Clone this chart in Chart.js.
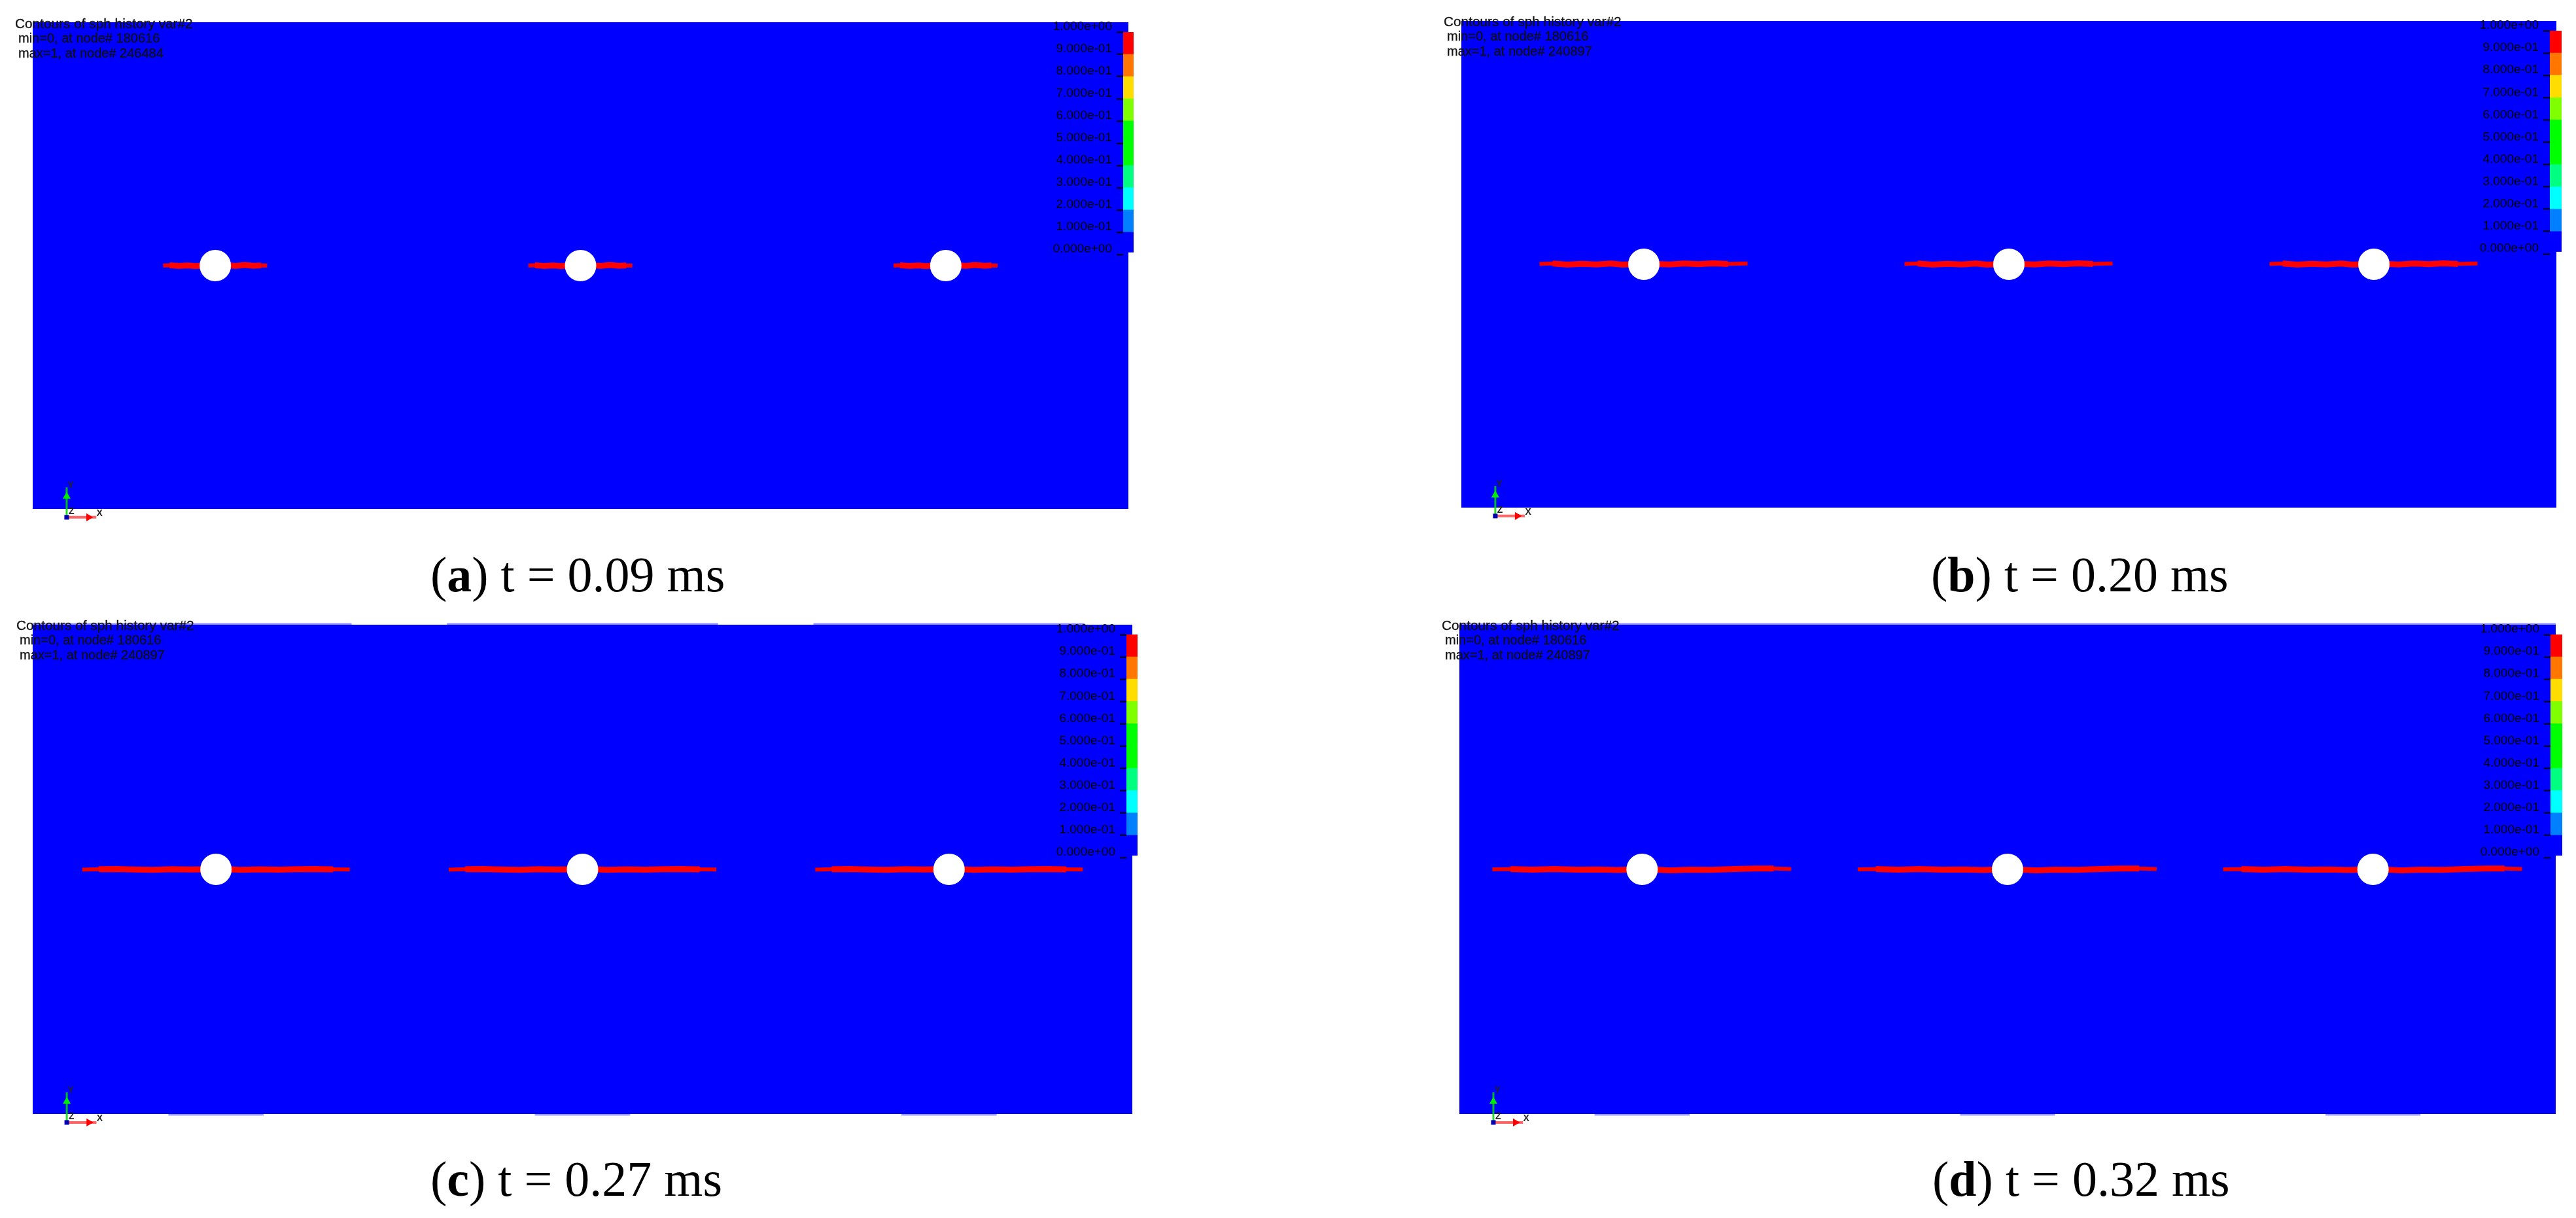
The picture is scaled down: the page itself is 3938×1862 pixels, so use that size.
<!DOCTYPE html>
<html>
<head>
<meta charset="utf-8">
<title>Contours of sph history var#2</title>
<script src="https://cdn.jsdelivr.net/npm/chart.js@4/dist/chart.umd.min.js"></script>
<style>
  html, body { margin: 0; padding: 0; background: #fff; }
  #page { position: relative; width: 3938px; height: 1862px; overflow: hidden; }
  #page canvas { position: absolute; }
  .plate-canvas { z-index: 1; filter: blur(0.6px); }
  .bar-canvas { z-index: 2; filter: blur(0.7px); }
  .header {
    position: absolute; z-index: 3; white-space: nowrap; color: #111;
    font: 20px/23px "Liberation Sans", sans-serif; filter: blur(0.7px);
    -webkit-text-stroke: 0.3px #111;
  }
  .header .first { font-size: 20.8px; margin-left: -5px; }
  .caption {
    position: absolute; z-index: 3; white-space: nowrap; color: #000;
    font: 76px/76px "Liberation Serif", serif;
  }
</style>
</head>
<body>
<div id="page"></div>
<script>
// model size of the plate, and the three holes along its mid line
const plateWidth = 300;
const plateHeight = 133.33;
const holeX = [50, 150, 250];
const holeY = [66.67, 66.67, 66.67];

const crackA = [[-14.3, 0.0], [-12.5, 0.1], [-10, -0.1], [-7.5, 0.05], [-5.5, -0.15], [-3.5, 0.0], [3.5, 0.1], [5.5, -0.1], [8, 0.15], [10.5, -0.05], [12.5, 0.05], [14.2, 0.0]];
const crackB = [[-28.6, 0.1], [-25, 0.2], [-21, -0.1], [-17, 0.15], [-13, -0.05], [-9, 0.2], [-6, -0.1], [-3.5, 0.0], [3.5, 0.1], [7, -0.05], [11, 0.2], [15, 0.05], [19, 0.25], [23, 0.1], [28.4, 0.2]];
const crackC = [[-36.5, -0.1], [-32, 0.05], [-27, 0.1], [-22, -0.05], [-17, -0.15], [-12, 0.05], [-7, -0.05], [-3.5, 0.0], [3.5, 0.0], [7, -0.15], [12, 0.0], [17, -0.1], [22, 0.05], [27, 0.1], [32, 0.0], [36.5, -0.05]];
const crackD = [[-41, 0.0], [-36, 0.1], [-30, -0.1], [-24, 0.1], [-18, -0.1], [-12, -0.05], [-7, -0.2], [-3.5, -0.1], [3.5, -0.1], [8, -0.25], [13, -0.1], [19, -0.15], [25, 0.1], [31, 0.2], [36, 0.2], [40.8, 0.1]];

// slightly bulged stretches of the plate edge, as [from x, to x]
const topBulgeA = [];
const topBulgeB = [];
const topBulgeC = [[0, 87], [113, 187], [213, 287]];
const topBulgeD = [[0, 300]];
const bottomBulgeA = [];
const bottomBulgeB = [];
const bottomBulgeC = [[37, 63], [137, 163], [237, 263]];
const bottomBulgeD = [[37, 63], [137, 163], [237, 263]];

// coordinate triad below the lower left corner
const triadOrigin = [9.3, -2.3];
const triadArrowX = [[9.3, -2.3], [15.3, -2.3], [17.4, -2.3]];
const triadArrowY = [[9.3, -2.3], [9.3, 3.4], [9.3, 5.9]];
const triadLabels = ['X', 'Y', 'Z'];
const triadLabelX = [18.3, 10.4, 10.6];
const triadLabelY = [-1.3, 6.4, -0.7];

// fringe legend
const bandLow = [0.01, 0.1, 0.2, 0.3, 0.4, 0.5, 0.6, 0.7, 0.8, 0.9];
const bandHigh = [0.1, 0.2, 0.3, 0.4, 0.5, 0.6, 0.7, 0.8, 0.9, 1.0];
const bandColors = ['#0000ff', '#0080ff', '#00ffff', '#00ff80', '#00ff00', '#00ff00', '#80ff00', '#ffdd00', '#ff7700', '#ff0000'];
const legendTicks = ['0.000e+00', '1.000e-01', '2.000e-01', '3.000e-01', '4.000e-01', '5.000e-01', '6.000e-01', '7.000e-01', '8.000e-01', '9.000e-01', '1.000e+00'];

const panelLetters = ['a', 'b', 'c', 'd'];
const panelTimes = ['0.09', '0.20', '0.27', '0.32'];
const headerTitle = 'Contours of sph history var#2';
const headerMin = ['min=0, at node# 180616', 'min=0, at node# 180616', 'min=0, at node# 180616', 'min=0, at node# 180616'];
const headerMax = ['max=1, at node# 246484', 'max=1, at node# 240897', 'max=1, at node# 240897', 'max=1, at node# 240897'];

const cracks = [crackA, crackB, crackC, crackD];
const topBulges = [topBulgeA, topBulgeB, topBulgeC, topBulgeD];
const bottomBulges = [bottomBulgeA, bottomBulgeB, bottomBulgeC, bottomBulgeD];

// where each frame sits on the page
const layout = [
  { plate: [50, 1725, 34, 778], bar: [1717, 1733, 49, 389], headerAt: [28, 24], captionAt: [658, 904] },
  { plate: [2234, 3908, 32, 776], bar: [3898, 3916, 47, 388], headerAt: [2212, 21], captionAt: [2952, 904] },
  { plate: [50, 1731, 955, 1703], bar: [1722, 1739, 970, 1311], headerAt: [30, 944], captionAt: [658, 1828] },
  { plate: [2231, 3907, 955, 1703], bar: [3899, 3917, 970, 1311], headerAt: [2209, 944], captionAt: [2954, 1828] }
];

const page = document.getElementById('page');

function addCanvas(className, left, top, width, height) {
  const canvas = document.createElement('canvas');
  canvas.className = className;
  canvas.width = width;
  canvas.height = height;
  canvas.style.left = left + 'px';
  canvas.style.top = top + 'px';
  canvas.style.width = width + 'px';
  canvas.style.height = height + 'px';
  page.appendChild(canvas);
  return canvas;
}

function toPoints(pairs) {
  return pairs.map(p => ({ x: p[0], y: p[1] }));
}

function edgeLine(span, y) {
  return {
    data: [{ x: span[0], y }, { x: span[1], y }],
    showLine: true, borderColor: 'rgba(0, 0, 255, 0.4)', borderWidth: 3,
    pointRadius: 0, order: 9
  };
}

// triad letters follow the data scales
const triadLabelPlugin = {
  id: 'triadLabels',
  afterDatasetsDraw(chart) {
    const { ctx, scales } = chart;
    ctx.save();
    ctx.font = 'bold 14px "Liberation Sans", sans-serif';
    ctx.fillStyle = '#222';
    ctx.textAlign = 'center';
    ctx.textBaseline = 'middle';
    triadLabels.forEach((label, i) => {
      ctx.fillText(label, scales.x.getPixelForValue(triadLabelX[i]), scales.y.getPixelForValue(triadLabelY[i]));
    });
    ctx.restore();
  }
};

function drawPlate(i) {
  const [left, right, top, bottom] = layout[i].plate;
  const marginX = 40;
  const marginTop = 20;
  const marginBottom = 40;
  const unitX = plateWidth / (right - left);
  const unitY = plateHeight / (bottom - top);
  const canvas = addCanvas('plate-canvas', left - marginX, top - marginTop,
    right - left + 2 * marginX, bottom - top + marginTop + marginBottom);

  const crack = cracks[i];
  const reach = Math.max(...crack.map(p => Math.abs(p[0])));
  const datasets = [{
    // plate body, filled down to its lower edge
    data: [{ x: 0, y: plateHeight }, { x: plateWidth, y: plateHeight }],
    showLine: true, borderWidth: 0, pointRadius: 0,
    backgroundColor: '#0000ff', fill: { target: { value: 0 } }, order: 10
  }];
  topBulges[i].forEach(span => datasets.push(edgeLine(span, plateHeight + 0.2)));
  bottomBulges[i].forEach(span => datasets.push(edgeLine(span, -0.2)));

  holeX.forEach((hx, h) => {
    const leftSide = crack.filter(p => p[0] < 0);
    const rightSide = crack.filter(p => p[0] > 0);
    [leftSide, rightSide].forEach(side => {
      const path = toPoints(side.map(p => [hx + p[0], holeY[h] + p[1]]));
      const core = path.filter(p => Math.abs(p.x - hx) < reach * 0.92);
      datasets.push({ data: path, showLine: true, borderColor: '#f00000', borderWidth: 6, pointRadius: 0, order: 5 });
      datasets.push({ data: core, showLine: true, borderColor: '#ff0000', borderWidth: 9, pointRadius: 0, order: 4 });
    });
  });

  datasets.push({
    data: holeX.map((hx, h) => ({ x: hx, y: holeY[h] })),
    pointRadius: 24, pointBackgroundColor: '#ffffff', pointBorderWidth: 0, order: 2
  });

  datasets.push({
    data: toPoints(triadArrowX), showLine: true, borderColor: 'rgba(255, 50, 50, 0.75)', borderWidth: 4,
    pointStyle: 'triangle', rotation: 90, pointRadius: [0, 7, 0],
    pointBackgroundColor: '#ff0000', pointBorderWidth: 0, order: 1
  });
  datasets.push({
    data: toPoints(triadArrowY), showLine: true, borderColor: 'rgba(0, 220, 0, 0.85)', borderWidth: 3,
    pointStyle: 'triangle', pointRadius: [0, 7, 0],
    pointBackgroundColor: '#00ee00', pointBorderWidth: 0, order: 1
  });
  datasets.push({
    data: [{ x: triadOrigin[0], y: triadOrigin[1] }],
    pointStyle: 'rect', pointRadius: 5, pointBackgroundColor: '#0000b0', pointBorderWidth: 0, order: 0
  });

  new Chart(canvas, {
    type: 'scatter',
    data: { datasets },
    options: {
      responsive: false, animation: false, events: [],
      layout: { padding: 0, autoPadding: false },
      plugins: { legend: { display: false }, tooltip: { enabled: false } },
      scales: {
        x: { display: false, min: -marginX * unitX, max: plateWidth + marginX * unitX },
        y: { display: false, min: -marginBottom * unitY, max: plateHeight + marginTop * unitY }
      }
    },
    plugins: [triadLabelPlugin]
  });
}

function drawFringeBar(i) {
  const [left, right, top, bottom] = layout[i].bar;
  const canvasWidth = 130;
  const padTop = 24;
  // has to cover half the two-line label height or the scale pulls its bottom up
  const padBottom = 24;
  const canvas = addCanvas('bar-canvas', right - canvasWidth, top - padTop, canvasWidth, bottom - top + padTop + padBottom);

  new Chart(canvas, {
    type: 'bar',
    data: {
      labels: [''],
      datasets: bandLow.map((low, b) => ({
        data: [[low, bandHigh[b]]],
        backgroundColor: bandColors[b], borderWidth: 0,
        barPercentage: 1, categoryPercentage: 1
      }))
    },
    options: {
      responsive: false, animation: false, events: [],
      layout: { padding: { top: padTop, bottom: padBottom }, autoPadding: false },
      plugins: { legend: { display: false }, tooltip: { enabled: false } },
      scales: {
        x: { display: false, stacked: true },
        y: {
          min: 0, max: 1,
          afterFit: scale => { scale.width = canvasWidth - (right - left); },
          border: { display: false },
          grid: { drawOnChartArea: false, drawTicks: true, tickColor: '#000', tickWidth: 2, tickLength: 10 },
          ticks: {
            stepSize: 0.1, autoSkip: false, padding: 7, color: '#000',
            font: { family: '"Liberation Sans", sans-serif', size: 19, lineHeight: '16px' },
            // the empty second line lifts the label above its tick, as in the solver's legend
            callback: (value, index) => [legendTicks[index], '']
          }
        }
      }
    }
  });
}

function addTexts(i) {
  const header = document.createElement('div');
  header.className = 'header';
  header.style.left = layout[i].headerAt[0] + 'px';
  header.style.top = layout[i].headerAt[1] + 'px';
  header.innerHTML = `<div class="first">${headerTitle}</div><div>${headerMin[i]}</div><div>${headerMax[i]}</div>`;
  page.appendChild(header);

  const caption = document.createElement('div');
  caption.className = 'caption';
  caption.style.left = layout[i].captionAt[0] + 'px';
  caption.style.top = (layout[i].captionAt[1] - 64) + 'px';
  caption.innerHTML = `(<b>${panelLetters[i]}</b>) t = ${panelTimes[i]} ms`;
  page.appendChild(caption);
}

layout.forEach((_, i) => {
  drawPlate(i);
  drawFringeBar(i);
  addTexts(i);
});
</script>
</body>
</html>
